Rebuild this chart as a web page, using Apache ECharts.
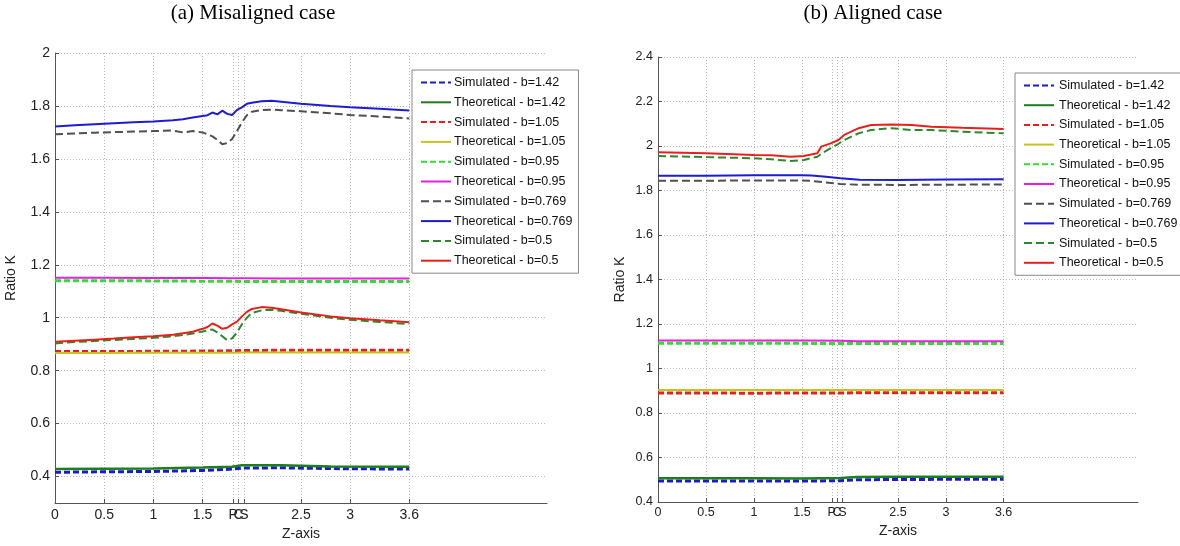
<!DOCTYPE html>
<html>
<head>
<meta charset="utf-8">
<script src="https://cdn.jsdelivr.net/npm/echarts@6/dist/echarts.min.js"></script>
<style>
html,body{margin:0;padding:0;background:#fff;}
#chart{width:1180px;height:546px;}
</style>
</head>
<body>
<div id="chart"></div>
<script>
// ---------- shared tick data ----------
const xTickValues = [0, 0.5, 1, 1.5, 1.81, 1.865, 1.92, 2.5, 3, 3.6];
const xTickLabels = ['0', '0.5', '1', '1.5', 'P', 'C', 'S', '2.5', '3', '3.6'];
const yTicksMis = [0.4, 0.6, 0.8, 1.0, 1.2, 1.4, 1.6, 1.8, 2.0];
const yTicksAli = [0.4, 0.6, 0.8, 1.0, 1.2, 1.4, 1.6, 1.8, 2.0, 2.2, 2.4];
const seriesNames = [
  'Simulated - b=1.42', 'Theoretical - b=1.42',
  'Simulated - b=1.05', 'Theoretical - b=1.05',
  'Simulated - b=0.95', 'Theoretical - b=0.95',
  'Simulated - b=0.769', 'Theoretical - b=0.769',
  'Simulated - b=0.5', 'Theoretical - b=0.5'
];

// ---------- (a) Misaligned case ----------
const xMisCurve = [0, 0.2, 0.4, 0.6, 0.8, 1.0, 1.2, 1.3, 1.4, 1.5, 1.55, 1.6, 1.65, 1.7, 1.75, 1.8, 1.85, 1.9, 1.95, 2.0, 2.1, 2.2, 2.3, 2.5, 2.8, 3.0, 3.3, 3.6];
const misTheo0769 = [1.722, 1.727, 1.731, 1.735, 1.738, 1.741, 1.746, 1.750, 1.756, 1.762, 1.765, 1.775, 1.768, 1.782, 1.770, 1.766, 1.785, 1.795, 1.808, 1.812, 1.818, 1.820, 1.816, 1.808, 1.800, 1.795, 1.789, 1.783];
const misSim0769 = [1.693, 1.696, 1.699, 1.701, 1.703, 1.705, 1.707, 1.700, 1.705, 1.700, 1.693, 1.685, 1.672, 1.655, 1.660, 1.675, 1.705, 1.738, 1.765, 1.778, 1.785, 1.786, 1.784, 1.780, 1.772, 1.766, 1.760, 1.753];
const misTheo05 = [0.909, 0.913, 0.917, 0.921, 0.926, 0.930, 0.936, 0.941, 0.947, 0.958, 0.965, 0.978, 0.970, 0.958, 0.962, 0.975, 0.985, 1.005, 1.022, 1.033, 1.040, 1.038, 1.032, 1.020, 1.005, 0.998, 0.990, 0.983];
const misSim05 = [0.903, 0.908, 0.912, 0.916, 0.920, 0.924, 0.930, 0.935, 0.940, 0.948, 0.953, 0.955, 0.945, 0.930, 0.915, 0.922, 0.945, 0.975, 1.000, 1.018, 1.028, 1.030, 1.026, 1.015, 1.000, 0.992, 0.984, 0.976];
const xMisFlat = [0, 0.5, 1.0, 1.5, 1.8, 1.9, 2.3, 2.8, 3.6];
const misTheo095 = [1.151, 1.151, 1.150, 1.150, 1.149, 1.149, 1.148, 1.148, 1.148];
const misSim095 = [1.140, 1.140, 1.139, 1.138, 1.138, 1.137, 1.137, 1.137, 1.137];
const misSim105 = [0.872, 0.872, 0.873, 0.874, 0.875, 0.876, 0.877, 0.877, 0.877];
const misTheo105 = [0.867, 0.867, 0.868, 0.868, 0.868, 0.869, 0.869, 0.869, 0.869];
const misTheo142 = [0.428, 0.429, 0.430, 0.434, 0.437, 0.443, 0.443, 0.438, 0.437];
const misSim142 = [0.416, 0.418, 0.419, 0.423, 0.428, 0.432, 0.433, 0.430, 0.428];

// ---------- (b) Aligned case ----------
const xAliCurve = [0, 0.5, 1.0, 1.18, 1.38, 1.52, 1.66, 1.7, 1.8, 1.88, 1.94, 2.09, 2.22, 2.43, 2.64, 2.85, 3.17, 3.6];
const aliTheo05 = [1.972, 1.967, 1.960, 1.958, 1.952, 1.955, 1.967, 1.997, 2.012, 2.027, 2.050, 2.080, 2.094, 2.097, 2.094, 2.087, 2.082, 2.076];
const aliSim05 = [1.955, 1.950, 1.945, 1.940, 1.933, 1.937, 1.952, 1.965, 1.990, 2.010, 2.027, 2.057, 2.072, 2.080, 2.072, 2.072, 2.064, 2.057];
const xAliMid = [0, 0.5, 1.0, 1.5, 1.6, 1.75, 1.9, 2.1, 2.5, 3.0, 3.6];
const aliTheo0769 = [1.866, 1.866, 1.868, 1.868, 1.867, 1.862, 1.855, 1.848, 1.847, 1.849, 1.851];
const aliSim0769 = [1.844, 1.844, 1.845, 1.845, 1.843, 1.836, 1.829, 1.826, 1.825, 1.826, 1.827];
const xAliFlat = [0, 0.5, 1.0, 1.5, 1.9, 2.07, 2.5, 3.0, 3.6];
const aliTheo095 = [1.126, 1.126, 1.126, 1.126, 1.125, 1.123, 1.123, 1.123, 1.123];
const aliSim095 = [1.114, 1.114, 1.113, 1.113, 1.112, 1.112, 1.112, 1.112, 1.112];
const aliTheo105 = [0.903, 0.903, 0.903, 0.903, 0.903, 0.903, 0.903, 0.903, 0.903];
const aliSim105 = [0.890, 0.890, 0.889, 0.890, 0.890, 0.891, 0.891, 0.891, 0.891];
const aliTheo142 = [0.507, 0.507, 0.507, 0.506, 0.508, 0.512, 0.513, 0.513, 0.513];
const aliSim142 = [0.494, 0.494, 0.494, 0.494, 0.496, 0.500, 0.501, 0.502, 0.502];

// ---------- styles ----------
const C = {
  blueD: '#1a1ad0', green: '#1e7d1e', red: '#e8201c', yellow: '#c9c21e',
  lime: '#2de02d', magenta: '#e81ee0', gray: '#505050', blue: '#1c1cd0', dgreen: '#2a8a2a'
};
function pairs(xs, ys) { return xs.map((x, i) => [x, ys[i]]); }
function mk(name, xs, ys, color, width, dash, idx) {
  return {
    name: name, type: 'line', xAxisIndex: idx, yAxisIndex: idx,
    data: pairs(xs, ys), symbol: 'none', showSymbol: false, animation: false,
    lineStyle: { color: color, width: width, type: dash || 'solid' },
    itemStyle: { color: color }, z: 3
  };
}
function buildSeries(idx, d) {
  return [
    mk(seriesNames[0], d.xf, d.s142, C.blueD, 3, [6, 3], idx),
    mk(seriesNames[1], d.xf, d.t142, C.green, 2.5, null, idx),
    mk(seriesNames[2], d.xf, d.s105, C.red, 3, [6, 3], idx),
    mk(seriesNames[3], d.xf, d.t105, C.yellow, 2, null, idx),
    mk(seriesNames[4], d.xf, d.s095, C.lime, 3, [6, 3], idx),
    mk(seriesNames[5], d.xf, d.t095, C.magenta, 2, null, idx),
    mk(seriesNames[6], d.xm, d.s0769, C.gray, 2, [8, 4], idx),
    mk(seriesNames[7], d.xm, d.t0769, C.blue, 2, null, idx),
    mk(seriesNames[8], d.xc, d.s05, C.dgreen, 2, [8, 4], idx),
    mk(seriesNames[9], d.xc, d.t05, C.red, 2, null, idx)
  ];
}
const series = [].concat(
  buildSeries(0, { xf: xMisFlat, xm: xMisCurve, xc: xMisCurve,
    s142: misSim142, t142: misTheo142, s105: misSim105, t105: misTheo105,
    s095: misSim095, t095: misTheo095, s0769: misSim0769, t0769: misTheo0769,
    s05: misSim05, t05: misTheo05 }),
  buildSeries(1, { xf: xAliFlat, xm: xAliMid, xc: xAliCurve,
    s142: aliSim142, t142: aliTheo142, s105: aliSim105, t105: aliTheo105,
    s095: aliSim095, t095: aliTheo095, s0769: aliSim0769, t0769: aliTheo0769,
    s05: aliSim05, t05: aliTheo05 })
);

const sans = 'Liberation Sans, Arial, sans-serif';
const gridLine = { color: '#b8b8b8', type: [1, 2], width: 1 };
function fmtNum(v) { return String(+(+v).toFixed(2)); }
function xAxis(idx, fs, labMargin, nameGap) {
  return {
    type: 'value', gridIndex: idx, min: 0, max: 5,
    name: 'Z-axis', nameLocation: 'middle', nameGap: nameGap,
    nameTextStyle: { fontFamily: sans, fontSize: 14, color: '#222' },
    axisLine: { show: true, onZero: false, lineStyle: { color: '#555', width: 1 } },
    axisTick: { show: true, inside: true, length: 4, customValues: xTickValues, lineStyle: { color: '#555' } },
    axisLabel: {
      customValues: xTickValues, margin: labMargin,
      fontFamily: sans, fontSize: fs, color: '#222',
      formatter: function (v) {
        for (let i = 0; i < xTickValues.length; i++) if (Math.abs(xTickValues[i] - v) < 1e-6) return xTickLabels[i];
        return '';
      }
    },
    splitLine: { show: true, lineStyle: gridLine }
  };
}
function yAxis(idx, min, max, ticks, fs, nameGap) {
  return {
    type: 'value', gridIndex: idx, min: min, max: max,
    name: 'Ratio K', nameLocation: 'middle', nameGap: nameGap,
    nameTextStyle: { fontFamily: sans, fontSize: 14, color: '#222' },
    axisLine: { show: true, onZero: false, lineStyle: { color: '#555', width: 1 } },
    axisTick: { show: true, inside: true, length: 4, customValues: ticks, lineStyle: { color: '#555' } },
    axisLabel: { customValues: ticks, margin: 5, fontFamily: sans, fontSize: fs, color: '#222', formatter: fmtNum },
    splitLine: { show: true, lineStyle: gridLine }
  };
}
function legend(left, top, fs, iw, gap, tpad) {
  return {
    show: true, orient: 'vertical', left: left, top: top,
    data: seriesNames, selectedMode: false,
    backgroundColor: '#fff', borderColor: '#888', borderWidth: 1,
    padding: [6, 6, 6, 8], itemWidth: iw, itemHeight: 12, itemGap: gap,
    itemStyle: { opacity: 0 },
    textStyle: { fontFamily: sans, fontSize: fs, color: '#111', padding: [0, 0, 0, tpad] }
  };
}

const option = {
  backgroundColor: '#fff',
  animation: false,
  title: [
    { text: '(a) Misaligned case', left: 248, top: -2, textAlign: 'center',
      textStyle: { fontFamily: 'Liberation Serif, Times New Roman, serif', fontSize: 21, fontWeight: 'normal', color: '#000' } },
    { text: '(b) Aligned case', left: 868, top: -2, textAlign: 'center',
      textStyle: { fontFamily: 'Liberation Serif, Times New Roman, serif', fontSize: 21, fontWeight: 'normal', color: '#000' } }
  ],
  grid: [
    { left: 55, top: 53, width: 492, height: 455, containLabel: false },
    { left: 658, top: 57, width: 480, height: 445, containLabel: false }
  ],
  xAxis: [xAxis(0, 14, 5, 24), xAxis(1, 12.5, 4, 16)],
  yAxis: [yAxis(0, 0.3, 2.0, yTicksMis, 14, 37), yAxis(1, 0.4, 2.4, yTicksAli, 12.5, 31)],
  legend: [legend(412, 70, 12.5, 30, 6.8, -2), legend(1015, 73, 12.5, 30, 6.7, 0)],
  series: series
};
const chart = echarts.init(document.getElementById('chart'), null, { renderer: 'canvas' });
chart.setOption(option);
</script>
</body>
</html>
